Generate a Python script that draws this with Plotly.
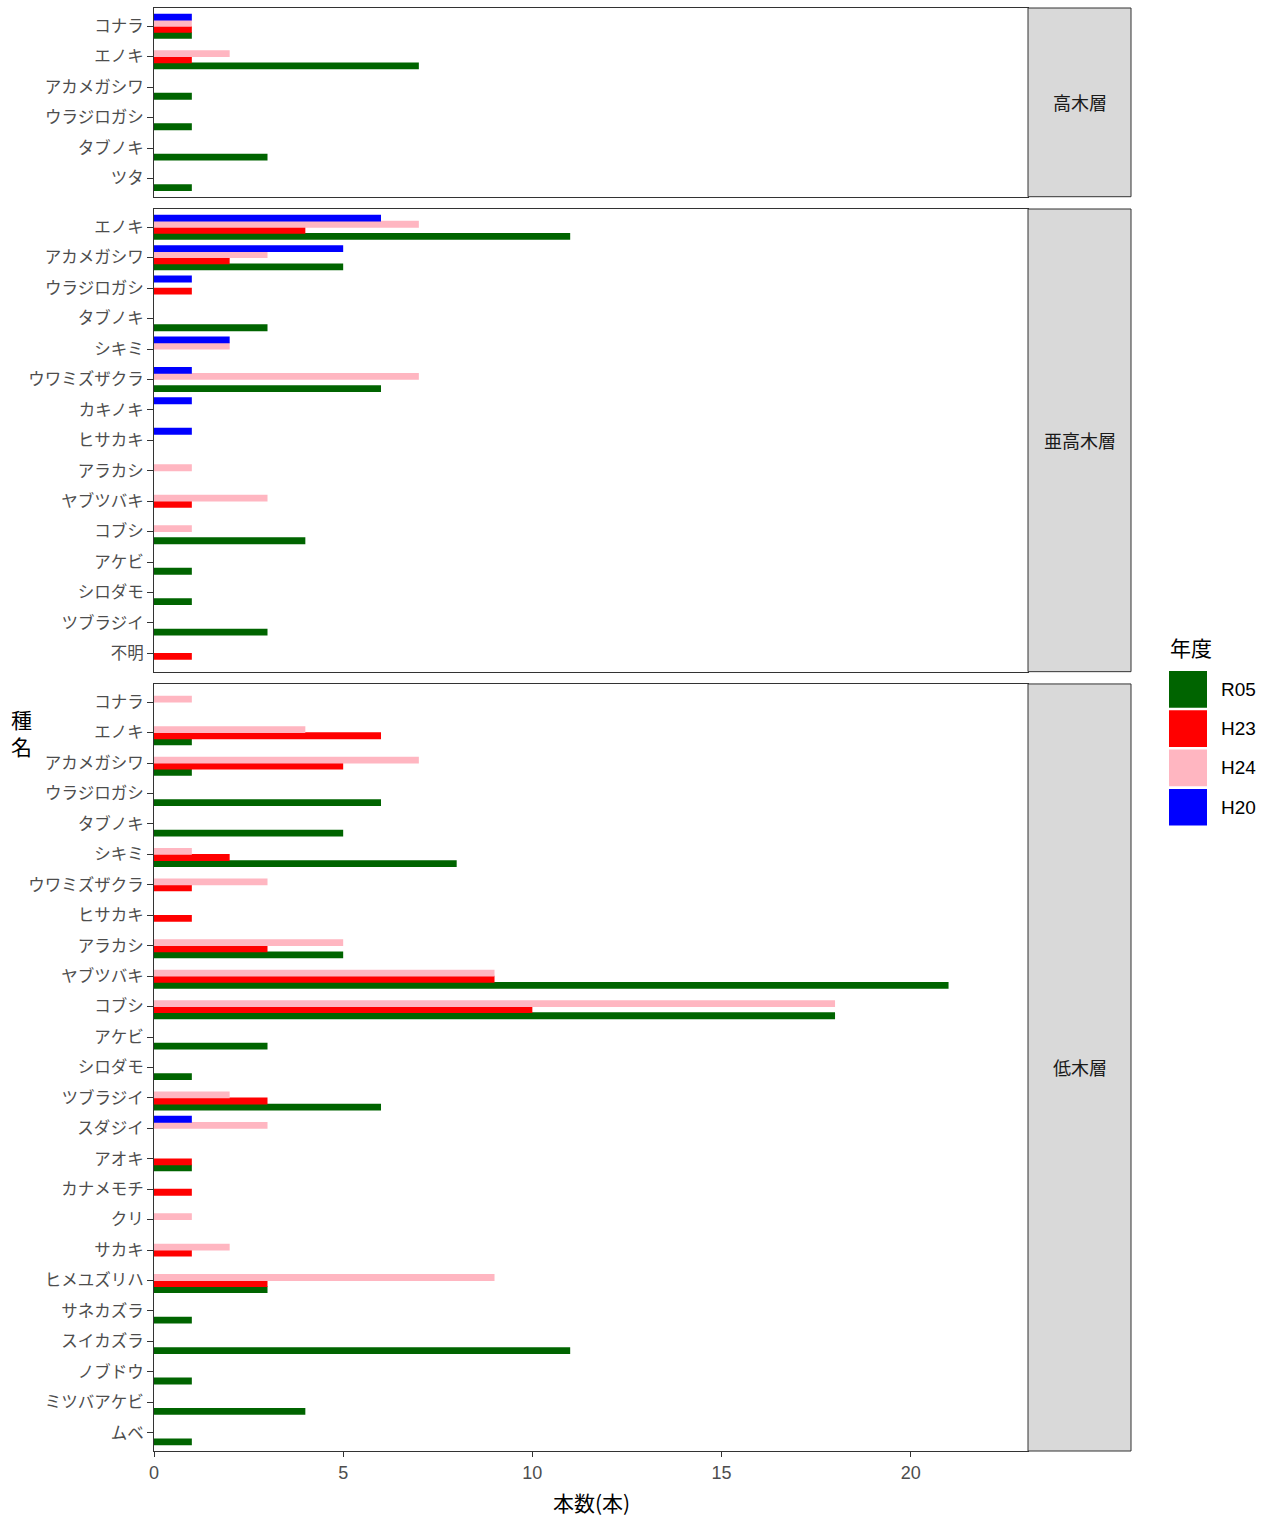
import plotly.graph_objects as go

# ---------------- data ----------------
series = ["R05", "H23", "H24", "H20"]
series_colors = ["#006400", "#FF0000", "#FFB6C1", "#0000FF"]
layers = ["高木層", "亜高木層", "低木層"]

high_species = ["コナラ", "エノキ", "アカメガシワ", "ウラジロガシ", "タブノキ", "ツタ"]
high_R05 = [1, 7, 1, 1, 3, 1]
high_H23 = [1, 1, 0, 0, 0, 0]
high_H24 = [1, 2, 0, 0, 0, 0]
high_H20 = [1, 0, 0, 0, 0, 0]

mid_species = ["エノキ", "アカメガシワ", "ウラジロガシ", "タブノキ", "シキミ", "ウワミズザクラ",
               "カキノキ", "ヒサカキ", "アラカシ", "ヤブツバキ", "コブシ", "アケビ", "シロダモ",
               "ツブラジイ", "不明"]
mid_R05 = [11, 5, 0, 3, 0, 6, 0, 0, 0, 0, 4, 1, 1, 3, 0]
mid_H23 = [4, 2, 1, 0, 0, 0, 0, 0, 0, 1, 0, 0, 0, 0, 1]
mid_H24 = [7, 3, 0, 0, 2, 7, 0, 0, 1, 3, 1, 0, 0, 0, 0]
mid_H20 = [6, 5, 1, 0, 2, 1, 1, 1, 0, 0, 0, 0, 0, 0, 0]

low_species = ["コナラ", "エノキ", "アカメガシワ", "ウラジロガシ", "タブノキ", "シキミ",
               "ウワミズザクラ", "ヒサカキ", "アラカシ", "ヤブツバキ", "コブシ", "アケビ",
               "シロダモ", "ツブラジイ", "スダジイ", "アオキ", "カナメモチ", "クリ", "サカキ",
               "ヒメユズリハ", "サネカズラ", "スイカズラ", "ノブドウ", "ミツバアケビ", "ムベ"]
low_R05 = [0, 1, 1, 6, 5, 8, 0, 0, 5, 21, 18, 3, 1, 6, 0, 1, 0, 0, 0, 3, 1, 11, 1, 4, 1]
low_H23 = [0, 6, 5, 0, 0, 2, 1, 1, 3, 9, 10, 0, 0, 3, 0, 1, 1, 0, 1, 3, 0, 0, 0, 0, 0]
low_H24 = [1, 4, 7, 0, 0, 1, 3, 0, 5, 9, 18, 0, 0, 2, 3, 0, 0, 1, 2, 9, 0, 0, 0, 0, 0]
low_H20 = [0, 0, 0, 0, 0, 0, 0, 0, 0, 0, 0, 0, 0, 0, 1, 0, 0, 0, 0, 0, 0, 0, 0, 0, 0]

x_tickvals = [0, 5, 10, 15, 20]
x_title = "本数(本)"
y_title = "種名"
legend_title = "年度"

panels = [
    (high_species, [high_R05, high_H23, high_H24, high_H20]),
    (mid_species, [mid_R05, mid_H23, mid_H24, mid_H20]),
    (low_species, [low_R05, low_H23, low_H24, low_H20]),
]

# ---------------- layout geometry ----------------
W, H = 1271, 1519
ML, MR, MT, MB = 154, 243, 8, 68
PW, PH = W - ML - MR, H - MT - MB
GAP = 12.3
STRIP_RIGHT = 1131

FONT = "Liberation Sans, Noto Sans CJK JP, sans-serif"
JFONT = "Noto Sans CJK JP, Liberation Sans, sans-serif"


def xp(px):
    return (px - ML) / PW


def yp(py):
    return (MT + PH - py) / PH


units = [len(sp) + 0.2 for sp, _ in panels]
unit_px = (PH - GAP * (len(panels) - 1)) / sum(units)

domains = []
top = MT
for u in units:
    bottom = top + u * unit_px
    domains.append((yp(bottom), yp(top)))
    top = bottom + GAP

all_vals = [v for _, vals in panels for s in vals for v in s]
xmax = max(all_vals) * 1.1

# dodge: geom width 0.9 split in 4, dodge width 0.8 (R05 lowest on screen)
n_s = len(series)
bar_w = 0.9 / n_s
dodge_w = 0.8

fig = go.Figure()
for pi, (species, vals) in enumerate(panels):
    ax = "" if pi == 0 else str(pi + 1)
    for si, (name, col, v) in enumerate(zip(series, series_colors, vals)):
        center = -dodge_w * ((si + 0.5) / n_s - 0.5)
        fig.add_trace(go.Bar(
            y=species, x=v, orientation="h",
            name=name, marker=dict(color=col, line=dict(width=0)),
            offset=center - bar_w / 2, width=bar_w,
            xaxis="x" + ax, yaxis="y" + ax,
            showlegend=False,
        ))

layout = dict(
    width=W, height=H,
    margin=dict(l=ML, r=MR, t=MT, b=MB, pad=0),
    paper_bgcolor="white", plot_bgcolor="white",
    barmode="overlay",
    font=dict(family=FONT, color="#1A1A1A"),
    showlegend=False,
)

for pi, (species, vals) in enumerate(panels):
    ax = "" if pi == 0 else str(pi + 1)
    n = len(species)
    last = pi == len(panels) - 1
    layout["xaxis" + ax] = dict(
        domain=[0, 1], anchor="y" + ax, range=[0, xmax],
        tickvals=x_tickvals, showgrid=False, zeroline=False,
        showline=True, mirror=True, linecolor="#333333", linewidth=1,
        ticks="outside" if last else "", ticklen=5, tickcolor="#333333",
        showticklabels=last,
        tickfont=dict(size=18, color="#4D4D4D", family=FONT),
    )
    layout["yaxis" + ax] = dict(
        domain=list(domains[pi]), anchor="x" + ax, type="category",
        categoryorder="array", categoryarray=species,
        range=[n - 0.4, -0.6], showgrid=False, zeroline=False,
        showline=True, mirror=True, linecolor="#333333", linewidth=1,
        ticks="outside", ticklen=6, tickcolor="#333333",
        tickfont=dict(size=16.5, color="#4D4D4D", family=JFONT),
    )

fig.update_layout(**layout)

shapes = []
annotations = []
for pi, name in enumerate(layers):
    d0, d1 = domains[pi]
    shapes.append(dict(type="rect", xref="paper", yref="paper",
                       x0=1.0, x1=xp(STRIP_RIGHT), y0=d0, y1=d1,
                       fillcolor="#D9D9D9", line=dict(color="#333333", width=1), layer="above"))
    annotations.append(dict(text=name, xref="paper", yref="paper",
                            x=(1.0 + xp(STRIP_RIGHT)) / 2, y=(d0 + d1) / 2,
                            showarrow=False, xanchor="center", yanchor="middle",
                            font=dict(size=18, color="#1A1A1A", family=JFONT)))

# axis titles
annotations.append(dict(text=x_title, xref="paper", yref="paper", x=0.5, y=yp(1502),
                        showarrow=False, xanchor="center", yanchor="middle",
                        font=dict(size=21, color="black", family=JFONT)))
annotations.append(dict(text="<br>".join(list(y_title)), xref="paper", yref="paper",
                        x=xp(21), y=yp(732), showarrow=False, xanchor="center", yanchor="middle",
                        font=dict(size=21, color="black", family=JFONT)))

# legend (drawn manually to match large ggplot keys)
LEG_X0, LEG_X1 = 1169, 1207
KEY_TOP, KEY_H, KEY_STEP = 671, 36.7, 39.3
annotations.append(dict(text=legend_title, xref="paper", yref="paper",
                        x=xp(LEG_X0 - 1), y=yp(647), showarrow=False,
                        xanchor="left", yanchor="middle",
                        font=dict(size=21, color="black", family=JFONT)))
for i, (name, col) in enumerate(zip(series, series_colors)):
    t = KEY_TOP + i * KEY_STEP
    shapes.append(dict(type="rect", xref="paper", yref="paper",
                       x0=xp(LEG_X0), x1=xp(LEG_X1), y0=yp(t + KEY_H), y1=yp(t),
                       fillcolor=col, line=dict(width=0)))
    annotations.append(dict(text=name, xref="paper", yref="paper",
                            x=xp(1219), y=yp(t + KEY_H / 2), showarrow=False,
                            xanchor="left", yanchor="middle",
                            font=dict(size=19, color="black", family=FONT)))

fig.update_layout(shapes=shapes, annotations=annotations)
fig.write_html("out.html", config={"displayModeBar": False},
               post_script="document.body.style.margin='0';document.body.style.overflow='hidden';")
